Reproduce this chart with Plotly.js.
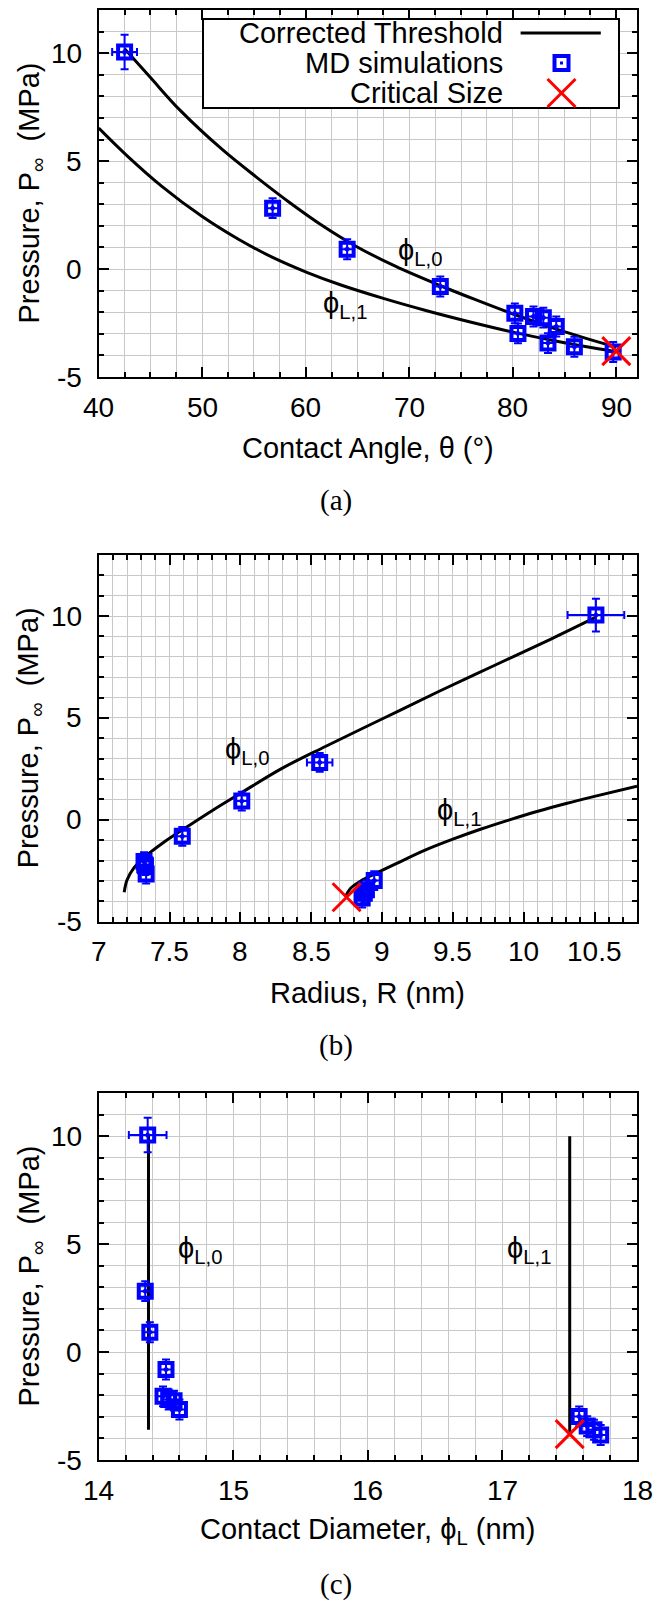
<!DOCTYPE html>
<html>
<head>
<meta charset="utf-8">
<script src="https://cdn.plot.ly/plotly-3.0.1.min.js"></script>
<style>
  html, body { margin: 0; padding: 0; background: #ffffff; }
  #chart { width: 668px; height: 1607px; }
</style>
</head>
<body>
<div id="chart"></div>
<script>
// ---------------- data ----------------
// MD simulations (same 12 runs in every panel)
const pMD       = [10.05, 2.82, 0.92, -0.81, -2.05, -2.98, -2.20, -2.25, -2.66, -3.43, -3.60, -3.84];
const pErr      = [0.80, 0.46, 0.46, 0.46, 0.46, 0.46, 0.46, 0.46, 0.46, 0.46, 0.46, 0.46];
// panel (a): contact angle (deg)
const thetaMD   = [42.5, 56.8, 64.0, 73.0, 80.2, 80.5, 82.0, 82.95, 84.2, 83.4, 85.95, 89.7];
const thetaErr  = [1.2, 0.6, 0.6, 0.6, 0.6, 0.6, 0.6, 0.6, 0.6, 0.6, 0.6, 0.6];
// panel (b): radius (nm)
const radiusMD  = [10.51, 8.56, 8.01, 7.59, 7.32, 8.945, 7.325, 7.33, 7.335, 8.89, 8.875, 8.86];
const radiusErr = [0.20, 0.09, 0.045, 0.045, 0.045, 0.045, 0.045, 0.045, 0.045, 0.045, 0.045, 0.045];
// panel (c): contact diameter (nm)
const diamMD    = [14.364, 14.346, 14.38, 14.50, 14.478, 17.57, 14.52, 14.56, 14.60, 17.63, 17.68, 17.73];
const diamErr   = [0.14, 0.045, 0.045, 0.045, 0.045, 0.045, 0.045, 0.045, 0.045, 0.045, 0.045, 0.045];

// critical size
const critP     = [-3.8];
const critTheta = [90.0];
const critR     = [8.75];
const critDiam  = [17.5];

// corrected threshold curves, panel (a)
const a0Theta = [42.5, 43.35, 45.0, 47.85, 51.9, 55.2, 58.5, 61.7, 64.8, 68.7, 72.9, 76.4, 79.9, 84.0, 87.0, 90.0];
const a0P     = [10.2, 9.75, 8.87, 7.36, 5.55, 4.27, 3.06, 1.98, 1.07, 0.12, -0.75, -1.42, -2.06, -2.75, -3.20, -3.62];
const a1Theta = [40.0, 42.8, 46.1, 50.0, 53.5, 56.8, 60.1, 63.4, 67.5, 71.6, 75.7, 79.9, 84.0, 87.0, 90.0];
const a1P     = [6.53, 5.22, 3.83, 2.43, 1.38, 0.54, -0.15, -0.74, -1.36, -1.92, -2.43, -2.91, -3.32, -3.59, -3.83];
// panel (b)
const b0R = [7.18, 7.20, 7.25, 7.32, 7.45, 7.60, 7.80, 8.00, 8.30, 8.60, 9.00, 9.40, 9.80, 10.20, 10.51];
const b0P = [-3.55, -2.95, -2.35, -1.85, -1.15, -0.45, 0.45, 1.30, 2.55, 3.60, 4.95, 6.30, 7.60, 8.90, 9.95];
const b1R = [8.74, 8.78, 8.85, 8.95, 9.10, 9.30, 9.50, 9.70, 9.90, 10.10, 10.30, 10.50, 10.80];
const b1P = [-3.80, -3.35, -3.00, -2.65, -2.15, -1.50, -0.95, -0.45, 0.00, 0.42, 0.80, 1.15, 1.65];
// panel (c)
const c0Diam = [14.37, 14.37];
const c0P    = [10.05, -3.60];
const c1Diam = [17.5, 17.5];
const c1P    = [10.0, -3.80];

// tick labels
const xTicksA = [40, 50, 60, 70, 80, 90];
const xTicksB = [7, 7.5, 8, 8.5, 9, 9.5, 10, 10.5];
const xTicksC = [14, 15, 16, 17, 18];
const yTicks  = [-5, 0, 5, 10];
const yTickText = ['-5', '0', '5', '10'];

// other text
const xTitles = ['Contact Angle, θ (°)', 'Radius, R (nm)', 'Contact Diameter, ϕ<sub>L</sub> (nm)'];
const yTitle  = 'Pressure, P<sub>∞</sub>  (MPa)';
const panelTags = ['(a)', '(b)', '(c)'];
const legendNames = ['Corrected Threshold', 'MD simulations', 'Critical Size'];
const curveNames = ['ϕ<sub>L,0</sub>', 'ϕ<sub>L,1</sub>'];

// ---------------- layout helpers ----------------
const W = 668, H = 1607;
const px = x => x / W;
const py = y => 1 - y / H;
const SANS = 'Liberation Sans, Arial, Helvetica, sans-serif';
const SERIF = 'Liberation Serif, Times New Roman, serif';
const BLUE = '#0000ff', RED = '#ff0000';
const GRID = '#c8c8c8';

const frameL = 98.7, frameR = 637;
const panels = [
  {top: 10,  bot: 377},
  {top: 555, bot: 921.7},
  {top: 1093, bot: 1460}
];

function axis(opts) {
  return Object.assign({
    showline: true, linewidth: 2, linecolor: '#000', mirror: 'ticks',
    ticks: 'inside', ticklen: 10, tickwidth: 1.5, tickcolor: '#000',
    showticklabels: false,
    showgrid: true, gridcolor: GRID, gridwidth: 1,
    zeroline: false, automargin: false, fixedrange: true
  }, opts);
}
function minor(dt) {
  return {dtick: dt, ticks: 'inside', ticklen: 5, tickwidth: 1.5, tickcolor: '#000',
          showgrid: true, gridcolor: GRID, gridwidth: 1};
}

function curve(x, y, xa, ya) {
  return {x: x, y: y, xaxis: xa, yaxis: ya, type: 'scatter', mode: 'lines',
          line: {color: '#000', width: 3, shape: 'spline', smoothing: 1},
          hoverinfo: 'skip', showlegend: false};
}
function md(x, xe, xa, ya) {
  return {x: x, y: pMD, xaxis: xa, yaxis: ya, type: 'scatter', mode: 'markers',
          marker: {symbol: 'square-open-dot', size: 13, color: BLUE, line: {width: 4, color: BLUE}},
          error_x: {type: 'data', array: xe, visible: true, color: BLUE, thickness: 2, width: 4},
          error_y: {type: 'data', array: pErr, visible: true, color: BLUE, thickness: 2, width: 4},
          showlegend: false};
}
function crit(x, xa, ya) {
  return {x: x, y: critP, xaxis: xa, yaxis: ya, type: 'scatter', mode: 'markers',
          marker: {symbol: 'x-thin-open', size: 28, color: RED, line: {width: 3, color: RED}},
          showlegend: false};
}

const data = [
  curve(a0Theta, a0P, 'x', 'y'),
  curve(a1Theta, a1P, 'x', 'y'),
  md(thetaMD, thetaErr, 'x', 'y'),
  crit(critTheta, 'x', 'y'),

  curve(b0R, b0P, 'x2', 'y2'),
  curve(b1R, b1P, 'x2', 'y2'),
  md(radiusMD, radiusErr, 'x2', 'y2'),
  crit(critR, 'x2', 'y2'),

  curve(c0Diam, c0P, 'x3', 'y3'),
  curve(c1Diam, c1P, 'x3', 'y3'),
  md(diamMD, diamErr, 'x3', 'y3'),
  crit(critDiam, 'x3', 'y3')
];

const xDom = [px(frameL), px(frameR)];
const yDoms = panels.map(p => [py(p.bot), py(p.top)]);

const layout = {
  width: W, height: H,
  margin: {l: 0, r: 0, t: 0, b: 0},
  paper_bgcolor: '#fff', plot_bgcolor: '#fff',
  showlegend: false,
  xaxis: axis({domain: xDom, anchor: 'y', range: [40, 92], dtick: 10, tick0: 40, minor: minor(2.5)}),
  yaxis: axis({domain: yDoms[0], anchor: 'x', range: [-5, 12], dtick: 5, tick0: -5, minor: minor(1)}),
  xaxis2: axis({domain: xDom, anchor: 'y2', range: [7, 10.8], dtick: 0.5, tick0: 7, minor: minor(0.1)}),
  yaxis2: axis({domain: yDoms[1], anchor: 'x2', range: [-5, 13], dtick: 5, tick0: -5, minor: minor(1)}),
  xaxis3: axis({domain: xDom, anchor: 'y3', range: [14, 18], dtick: 1, tick0: 14, minor: minor(0.2)}),
  yaxis3: axis({domain: yDoms[2], anchor: 'x3', range: [-5, 12], dtick: 5, tick0: -5, minor: minor(1)}),
  shapes: [],
  annotations: []
};

function txt(o) {
  return Object.assign({showarrow: false, borderpad: 0, borderwidth: 0,
    xanchor: 'center', yanchor: 'middle',
    font: {family: SANS, size: 29, color: '#000'}}, o);
}

// tick labels
const xTickSets = [[xTicksA, 'x'], [xTicksB, 'x2'], [xTicksC, 'x3']];
const yRefs = ['y', 'y2', 'y3'];
panels.forEach((p, i) => {
  const [ticks, xr] = xTickSets[i];
  ticks.forEach(v => layout.annotations.push(txt({xref: xr, yref: 'paper', x: v, y: py(p.bot + 30),
    text: String(v), font: {family: SANS, size: 28, color: '#000'}})));
  yTicks.forEach((v, k) => layout.annotations.push(txt({xref: 'paper', yref: yRefs[i], x: px(81.5), y: v,
    xanchor: 'right', text: yTickText[k], font: {family: SANS, size: 28, color: '#000'}})));
});

// axis titles and panel tags
const xMid = (frameL + frameR) / 2;
panels.forEach((p, i) => {
  layout.annotations.push(txt({xref: 'paper', yref: 'paper', x: px(xMid), y: py(p.bot + 71), text: xTitles[i]}));
  layout.annotations.push(txt({xref: 'paper', yref: 'paper', x: px(30), y: py((p.top + p.bot) / 2),
    text: yTitle, textangle: -90}));
  layout.annotations.push(txt({xref: 'paper', yref: 'paper', x: px(336), y: py(p.bot + 124),
    text: panelTags[i], font: {family: SERIF, size: 29, color: '#000'}}));
});

// curve labels (pixel positions)
const curveLabelPos = [
  [[420, 252], [345, 305]],
  [[247, 751], [459, 812]],
  [[200, 1250], [529, 1250]]
];
curveLabelPos.forEach(pair => pair.forEach((pos, j) => {
  layout.annotations.push(txt({xref: 'paper', yref: 'paper', x: px(pos[0]), y: py(pos[1]), text: curveNames[j]}));
}));

// custom legend in panel (a): text left, sample right
const rows = [33, 63, 93];
layout.shapes.push({type: 'rect', xref: 'paper', yref: 'paper', layer: 'above',
  x0: px(203), x1: px(619), y0: py(108), y1: py(19),
  fillcolor: '#fff', line: {color: '#000', width: 2}});
layout.shapes.push({type: 'line', xref: 'paper', yref: 'paper', layer: 'above',
  x0: px(520.6), x1: px(600.8), y0: py(rows[0]), y1: py(rows[0]),
  line: {color: '#000', width: 3}});
layout.shapes.push({type: 'rect', xref: 'paper', yref: 'paper', layer: 'above',
  x0: px(554.5), x1: px(568.5), y0: py(rows[1] + 7), y1: py(rows[1] - 7),
  line: {color: BLUE, width: 4}});
layout.shapes.push({type: 'rect', xref: 'paper', yref: 'paper', layer: 'above',
  x0: px(560), x1: px(563), y0: py(rows[1] + 1.5), y1: py(rows[1] - 1.5),
  fillcolor: BLUE, line: {color: BLUE, width: 0}});
layout.shapes.push({type: 'line', xref: 'paper', yref: 'paper', layer: 'above',
  x0: px(547.5), x1: px(575.5), y0: py(rows[2] - 14), y1: py(rows[2] + 14),
  line: {color: RED, width: 3}});
layout.shapes.push({type: 'line', xref: 'paper', yref: 'paper', layer: 'above',
  x0: px(547.5), x1: px(575.5), y0: py(rows[2] + 14), y1: py(rows[2] - 14),
  line: {color: RED, width: 3}});
legendNames.forEach((t, i) => {
  layout.annotations.push(txt({xref: 'paper', yref: 'paper', x: px(503), y: py(rows[i]),
    xanchor: 'right', text: t}));
});

Plotly.newPlot('chart', data, layout, {displayModeBar: false});
</script>
</body>
</html>
